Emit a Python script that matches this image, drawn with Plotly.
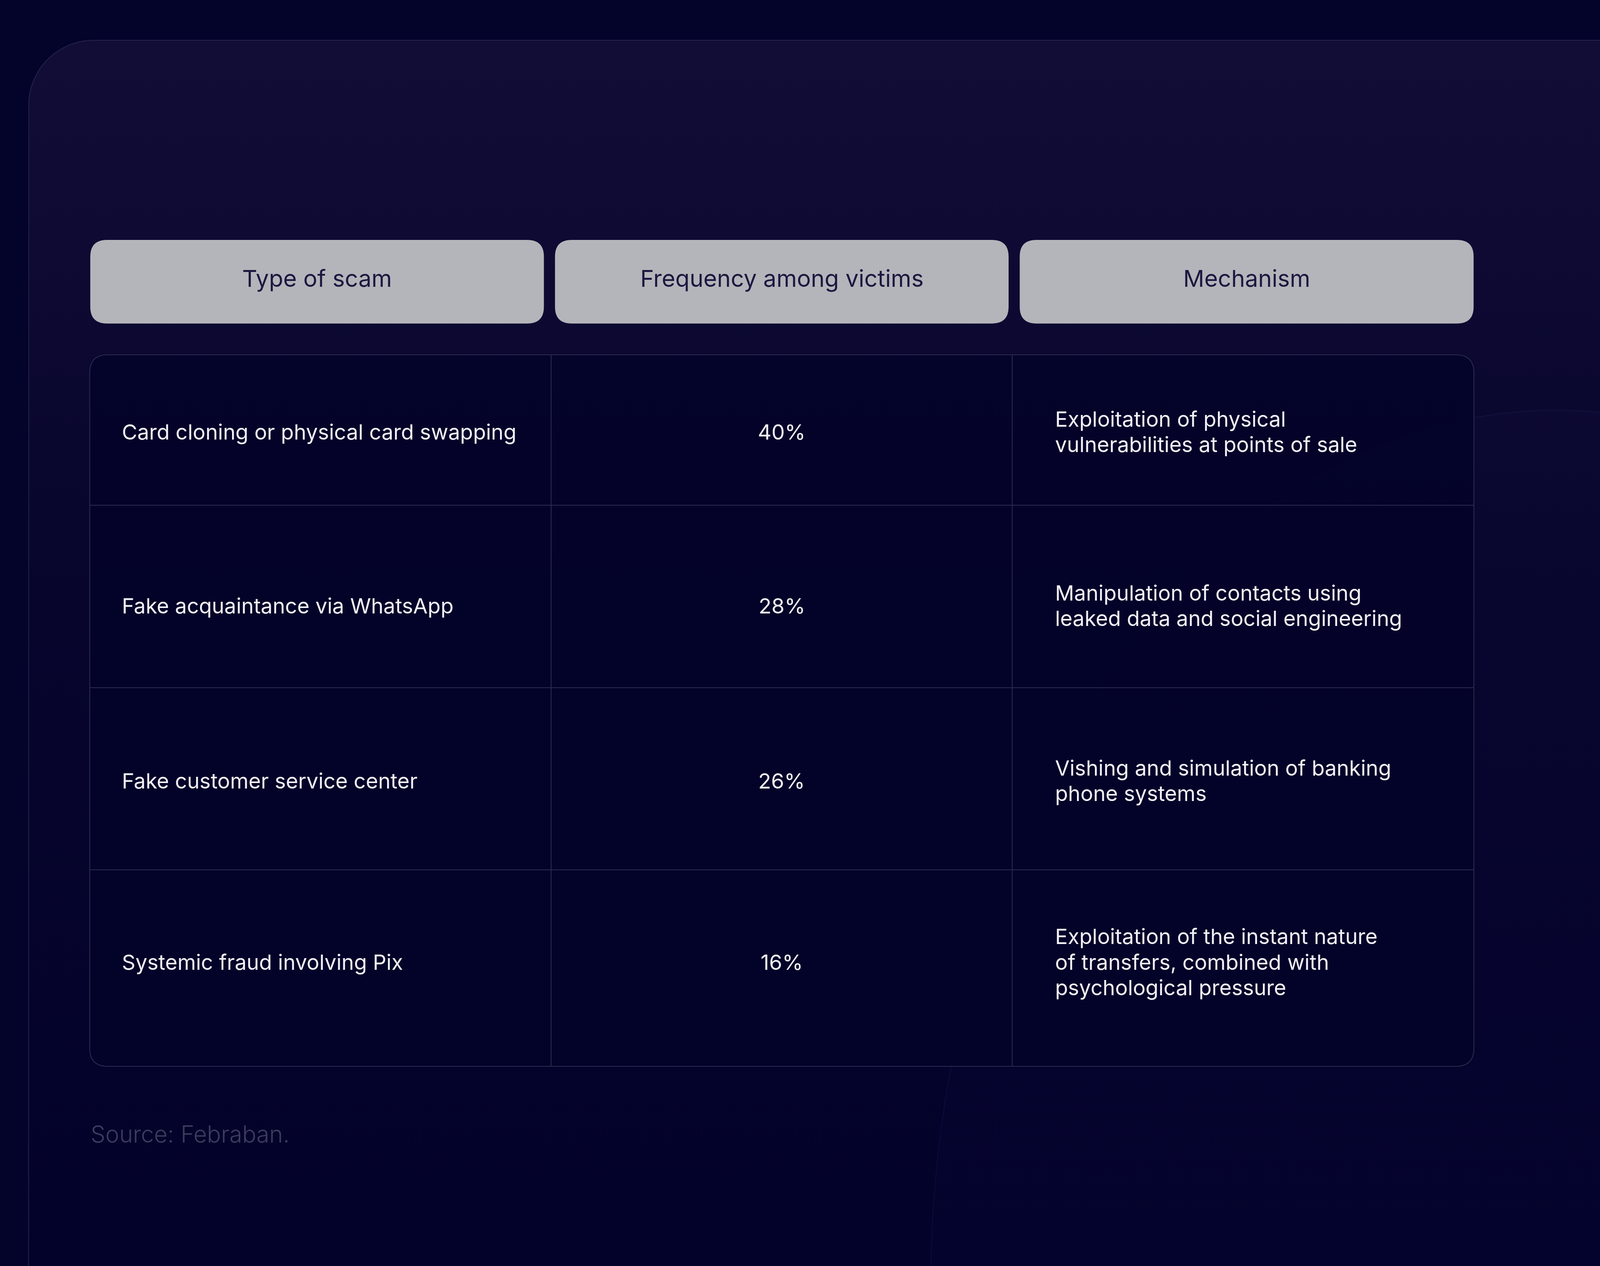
import json
import numpy as np
import plotly.graph_objects as go

# ---------------- data ----------------
headers = ["Type of scam", "Frequency among victims", "Mechanism"]
scam_types = [
    "Card cloning or physical card swapping",
    "Fake acquaintance via WhatsApp",
    "Fake customer service center",
    "Systemic fraud involving Pix",
]
frequencies = ["40%", "28%", "26%", "16%"]
mechanisms = [
    "Exploitation of physical<br>vulnerabilities at points of sale",
    "Manipulation of contacts using<br>leaked data and social engineering",
    "Vishing and simulation of banking<br>phone systems",
    "Exploitation of the instant nature<br>of transfers, combined with<br>psychological pressure",
]
source_note = "Source: Febraban."

# ---------------- layout constants (design space 5760 x 3240) ----------------
W, H = 5760, 3240
BG = "#04032a"
CARD_TOP = "#120d37"
CARD_BOT = "#03022a"
PILL = "#b4b5ba"
HEAD_TXT = "#1a1840"
BODY_TXT = "#f2f2f7"
GRID = "#2c2a50"
SRC_TXT = "#3d3c5d"
FONT = "Inter"

pill_x = [(325, 1958), (1998, 3631), (3671, 5305)]
pill_y = (614, 828)
head_text_y = 712
tab_x0, tab_x1 = 323, 5306
row_edges = [908, 1293, 1760, 2226, 2729]
col_edges = [323, 1984, 3644, 5306]
row_text_y = [1105, 1550, 1998, 2462]
left_text_x = 436
mech_text_x = 3796
body_size = 76
head_size = 84
line_gap = 92
CX0, CY0, CR = 103, 103, 235


def rr_path(x0, y0, x1, y1, r):
    return (f"M{x0 + r},{y0} L{x1 - r},{y0} Q{x1},{y0} {x1},{y0 + r} "
            f"L{x1},{y1 - r} Q{x1},{y1} {x1 - r},{y1} L{x0 + r},{y1} "
            f"Q{x0},{y1} {x0},{y1 - r} L{x0},{y0 + r} Q{x0},{y0} {x0 + r},{y0} Z")


fig = go.Figure()
rounded = []     # shapes whose corner radius must stay circular on screen
mech_lines = []  # (annotation index, block centre, design offset) for line spacing

# card with vertical gradient
t = np.linspace(np.pi, 1.5 * np.pi, 40)
arc_x = CX0 + CR + CR * np.cos(t)
arc_y = CY0 + CR + CR * np.sin(t)
card_x = np.concatenate([[CX0, CX0], arc_x, [W + 50, W + 50, CX0]])
card_y = np.concatenate([[H + 50, CY0 + CR], arc_y, [CY0, H + 50, H + 50]])
fig.add_trace(go.Scatter(
    x=card_x, y=card_y, mode="lines", fill="toself",
    line=dict(color="#24224a", width=3),
    fillgradient=dict(type="vertical",
                      colorscale=[[0, CARD_BOT], [0.55, "#07052c"], [1, CARD_TOP]],
                      start=H, stop=CY0),
    hoverinfo="skip", showlegend=False,
))

# faint decorative glow arc
fig.add_shape(type="circle", x0=3350, y0=1050, x1=7850, y1=5550,
              line=dict(color="rgba(120,110,200,0.07)", width=4),
              fillcolor="rgba(60,50,140,0.035)", layer="above")

# table box
rounded.append(dict(idx=len(fig.layout.shapes), x0=tab_x0, y0=row_edges[0],
                    x1=tab_x1, y1=row_edges[-1], r=65))
fig.add_shape(type="path", path=rr_path(tab_x0, row_edges[0], tab_x1, row_edges[-1], 65),
              fillcolor="rgba(3,2,40,0.88)", line=dict(color=GRID, width=3), layer="above")
for yv in row_edges[1:-1]:
    fig.add_shape(type="line", x0=tab_x0, x1=tab_x1, y0=yv, y1=yv,
                  line=dict(color=GRID, width=3), layer="above")
for xv in col_edges[1:-1]:
    fig.add_shape(type="line", x0=xv, x1=xv, y0=row_edges[0], y1=row_edges[-1],
                  line=dict(color=GRID, width=3), layer="above")

# header pills
for (x0, x1), label in zip(pill_x, headers):
    rounded.append(dict(idx=len(fig.layout.shapes), x0=x0, y0=pill_y[0],
                        x1=x1, y1=pill_y[1], r=60))
    fig.add_shape(type="path", path=rr_path(x0, pill_y[0], x1, pill_y[1], 60),
                  fillcolor=PILL, line=dict(width=0), layer="above")
    fig.add_annotation(x=(x0 + x1) / 2, y=head_text_y, text=label,
                       showarrow=False, xanchor="center", yanchor="middle",
                       font=dict(family=FONT, size=head_size, color=HEAD_TXT, weight=400))

# body cells
for i in range(len(scam_types)):
    yc = row_text_y[i]
    fig.add_annotation(x=left_text_x, y=yc, text=scam_types[i], showarrow=False,
                       xanchor="left", yanchor="middle",
                       font=dict(family=FONT, size=body_size, color=BODY_TXT))
    fig.add_annotation(x=(col_edges[1] + col_edges[2]) / 2, y=yc, text=frequencies[i],
                       showarrow=False, xanchor="center", yanchor="middle",
                       font=dict(family=FONT, size=body_size, color=BODY_TXT))
    lines = mechanisms[i].split("<br>")
    n = len(lines)
    for k, ln in enumerate(lines):
        off = (k - (n - 1) / 2) * line_gap
        mech_lines.append([len(fig.layout.annotations), yc, off])
        fig.add_annotation(x=mech_text_x, y=yc + off, text=ln,
                           showarrow=False, xanchor="left", yanchor="middle",
                           font=dict(family=FONT, size=body_size, color=BODY_TXT))

fig.add_annotation(x=323, y=2902, text=source_note, showarrow=False,
                   xanchor="left", yanchor="middle",
                   font=dict(family=FONT, size=84, color=SRC_TXT, weight=300))

fig.update_layout(
    width=W, height=H, margin=dict(l=0, r=0, t=0, b=0),
    paper_bgcolor=BG, plot_bgcolor=BG, showlegend=False,
    xaxis=dict(range=[0, W], visible=False, fixedrange=True),
    yaxis=dict(range=[H, 0], visible=False, fixedrange=True),
)

# Fit the design to the real browser viewport: stretch the axes to the window,
# scale fonts/line widths with the smaller factor and keep corners circular.
fit_js = """
var W = %d, H = %d, CX0 = %d, CY0 = %d, CR = %d, BG = '%s';
var ROUNDED = %s;
var MECH = %s;
var gd = document.getElementById('{plot_id}');
var html = document.documentElement, body = document.body;
html.style.margin = '0'; body.style.margin = '0';
html.style.overflow = 'hidden'; body.style.overflow = 'hidden';
html.style.background = BG; body.style.background = BG;
var iw = window.innerWidth, ih = window.innerHeight;
var sx = iw / W, sy = ih / H, fs = Math.min(sx, sy);
function rr(x0, y0, x1, y1, rx, ry) {
  return 'M' + (x0 + rx) + ',' + y0 + ' L' + (x1 - rx) + ',' + y0 +
         ' Q' + x1 + ',' + y0 + ' ' + x1 + ',' + (y0 + ry) +
         ' L' + x1 + ',' + (y1 - ry) + ' Q' + x1 + ',' + y1 + ' ' + (x1 - rx) + ',' + y1 +
         ' L' + (x0 + rx) + ',' + y1 + ' Q' + x0 + ',' + y1 + ' ' + x0 + ',' + (y1 - ry) +
         ' L' + x0 + ',' + (y0 + ry) + ' Q' + x0 + ',' + y0 + ' ' + (x0 + rx) + ',' + y0 + ' Z';
}
var upd = {width: iw, height: ih};
(gd.layout.annotations || []).forEach(function (a, i) {
  upd['annotations[' + i + '].font.size'] = a.font.size * fs;
});
MECH.forEach(function (m) {
  upd['annotations[' + m[0] + '].y'] = m[1] + m[2] * fs / sy;
});
(gd.layout.shapes || []).forEach(function (s, i) {
  if (s.line && s.line.width) { upd['shapes[' + i + '].line.width'] = Math.max(1, s.line.width * fs); }
});
ROUNDED.forEach(function (r) {
  upd['shapes[' + r.idx + '].path'] = rr(r.x0, r.y0, r.x1, r.y1, r.r * fs / sx, r.r * fs / sy);
});
var rx = CR * fs / sx, ry = CR * fs / sy, cx = [CX0, CX0], cy = [H + 50, CY0 + ry];
for (var k = 0; k < 40; k++) {
  var t = Math.PI + k / 39 * Math.PI / 2;
  cx.push(CX0 + rx + rx * Math.cos(t)); cy.push(CY0 + ry + ry * Math.sin(t));
}
cx.push(W + 50, W + 50, CX0); cy.push(CY0, H + 50, H + 50);
Plotly.update(gd, {x: [cx], y: [cy], 'line.width': [Math.max(1, 3 * fs)]}, upd, [0]);
""" % (W, H, CX0, CY0, CR, BG, json.dumps(rounded), json.dumps(mech_lines))

fig.write_html("out.html", post_script=fit_js, config={"displayModeBar": False})
